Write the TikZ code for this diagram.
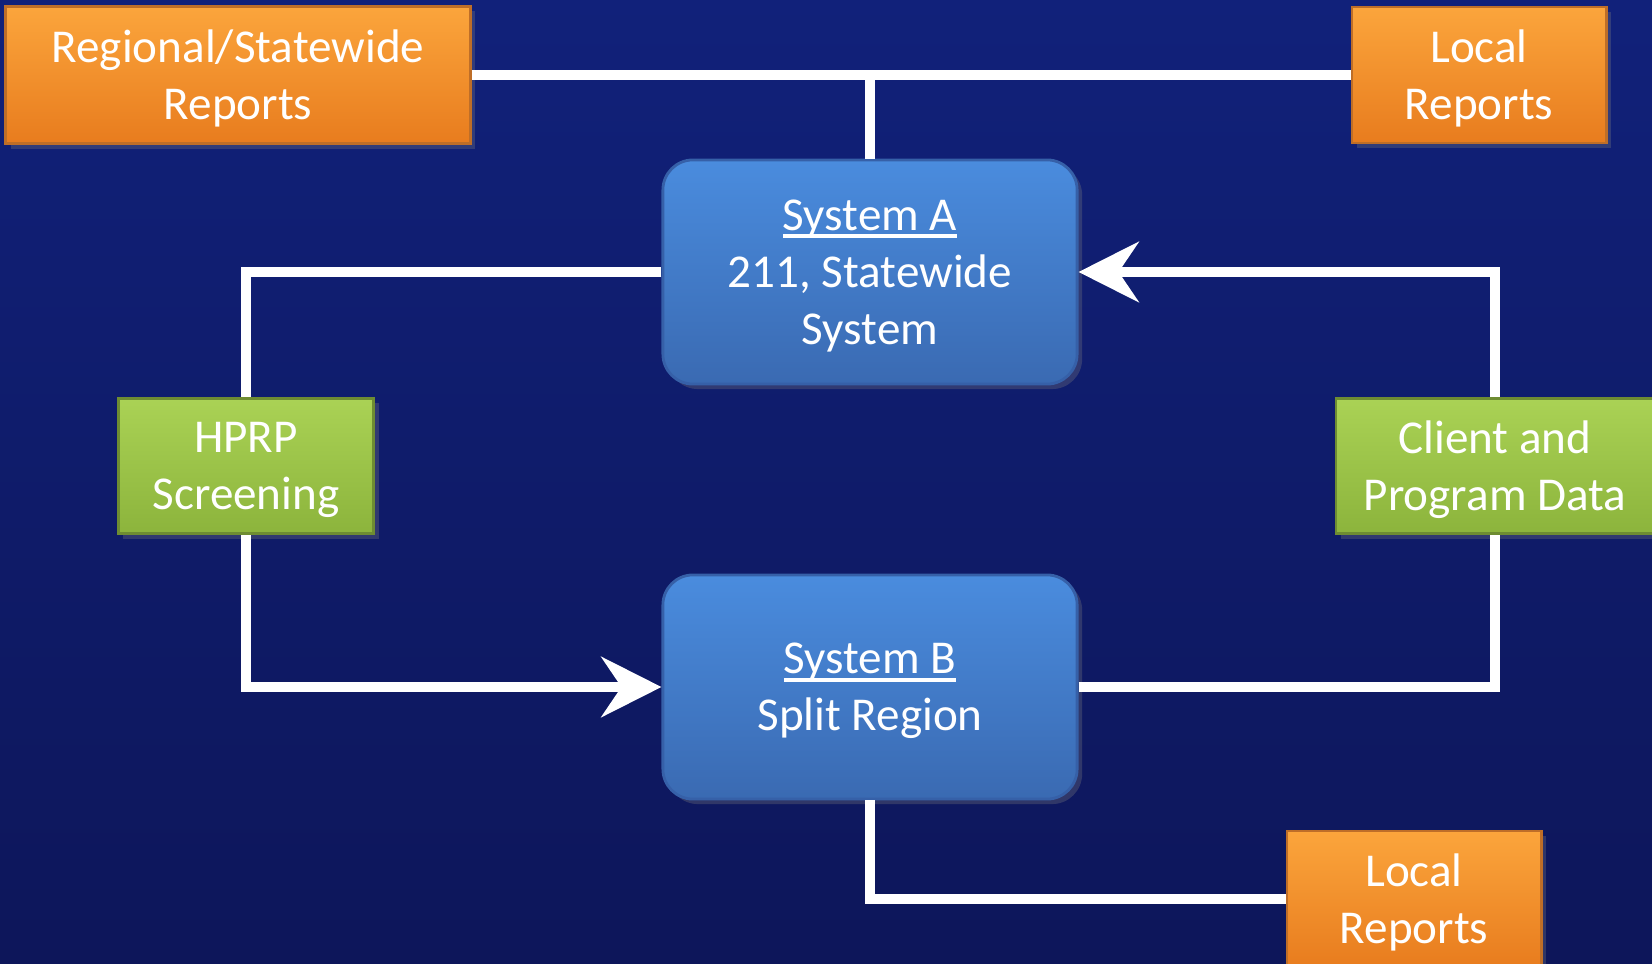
\documentclass[tikz,border=0pt]{standalone}
\usepackage{fontspec}
\setmainfont{Carlito}
\usetikzlibrary{arrows.meta,shadows}
\definecolor{navytop}{RGB}{17,33,122}
\definecolor{navybot}{RGB}{13,22,90}
\definecolor{orangetop}{RGB}{251,165,60}
\definecolor{orangebot}{RGB}{232,124,30}
\definecolor{orangeedge}{RGB}{190,110,40}
\definecolor{greentop}{RGB}{170,210,85}
\definecolor{greenbot}{RGB}{140,180,60}
\definecolor{greenedge}{RGB}{110,140,50}
\definecolor{bluetop}{RGB}{74,140,222}
\definecolor{bluebot}{RGB}{58,106,178}
\definecolor{blueedge}{RGB}{54,96,168}
\newcommand\ulname[1]{\setbox0\hbox{#1}\rlap{\rule[-0.08cm]{\wd0}{0.04cm}}\box0}
\begin{document}
\begin{tikzpicture}[x=0.01cm,y=-0.01cm,
  box/.style={text=white,align=center,inner sep=0pt,line width=0.8pt,
    font=\fontsize{13.4}{16.2}\selectfont,text depth=0pt,
    drop shadow={opacity=0.3,shadow xshift=0.05cm,shadow yshift=-0.05cm}},
  report/.style={box,draw=orangeedge,top color=orangetop,bottom color=orangebot},
  feed/.style={box,draw=greenedge,top color=greentop,bottom color=greenbot,
    minimum height=1.35cm},
  system/.style={box,draw=blueedge,top color=bluetop,bottom color=bluebot,
    rounded corners=0.3cm,minimum width=4.14cm,minimum height=2.24cm},
  link/.style={draw=white,line width=0.1cm},
  flow/.style={link,-{Stealth[length=0.6cm,width=0.6cm,inset=0.2cm]}}]
\useasboundingbox (0,0) rectangle (1652,964);
\clip (0,0) rectangle (1652,964);
\shade[top color=navytop,bottom color=navybot] (0,0) rectangle (1652,964);
% reports
\node[report,minimum width=4.64cm,minimum height=1.37cm] (regional) at (238,75) {Regional/Statewide\\Reports};
\node[report,minimum width=2.54cm,minimum height=1.36cm] (localtop) at (1479,75) {Local\\Reports};
\node[report,minimum width=2.54cm,minimum height=1.36cm] (localbot) at (1414,899) {Local\\Reports};
% systems
\node[system] (sysa) at (870,272) {\ulname{System A}\\211, Statewide\\System};
\node[system] (sysb) at (870,687) {\ulname{System B}\\Split Region};
% data feeds
\node[feed,minimum width=2.55cm] (hprp) at (246,466) {HPRP\\Screening};
\node[feed,minimum width=3.18cm] (client) at (1495,466) {Client and\\Program Data};
% connectors
\draw[link] (regional.east) -- (localtop.west);
\draw[link] (sysa.north) -- (sysa.north |- regional.east);
\draw[link] (sysa.west) -| (hprp.north);
\draw[flow] (hprp.south) |- (sysb.west);
\draw[link] (sysb.east) -| (client.south);
\draw[flow] (client.north) |- (sysa.east);
\draw[link] (sysb.south) |- (localbot.west);
\end{tikzpicture}
\end{document}
